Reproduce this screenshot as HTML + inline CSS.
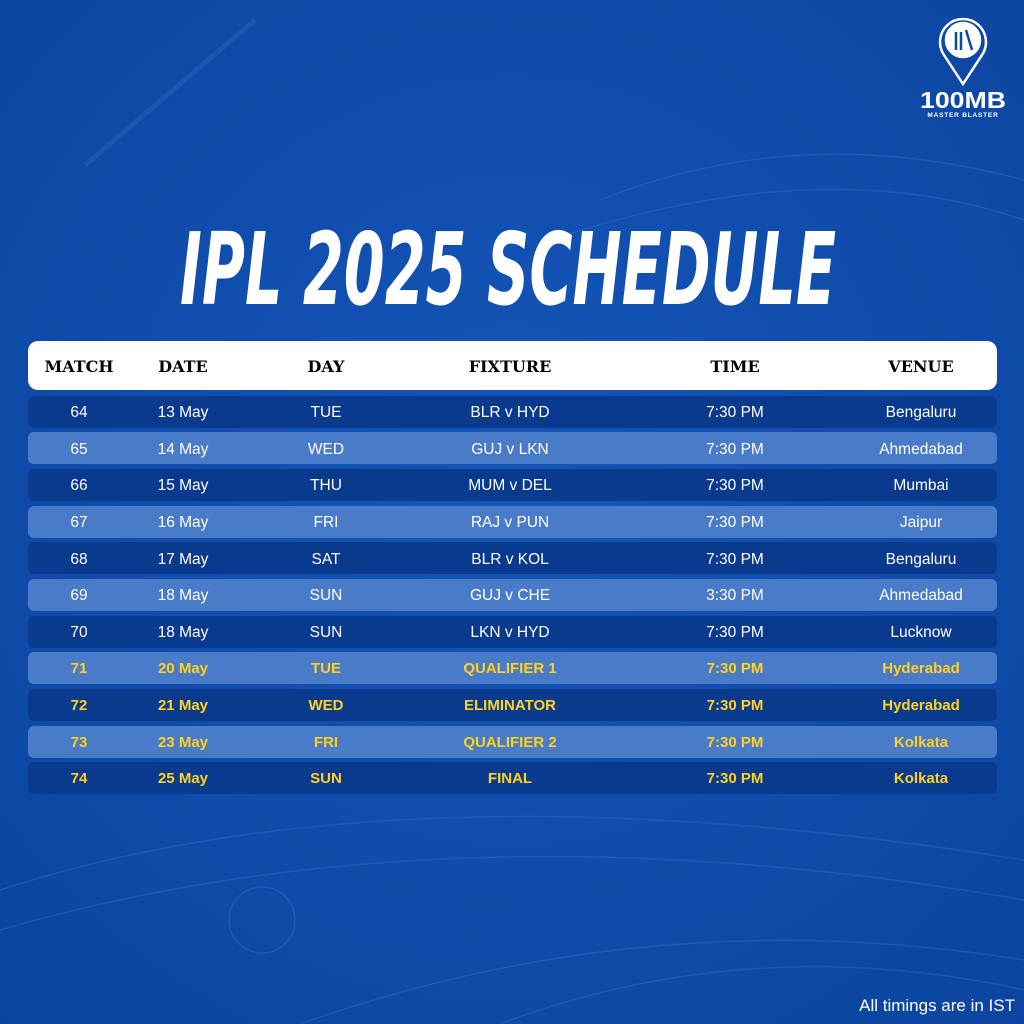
<!DOCTYPE html>
<html><head><meta charset="utf-8"><style>
html,body{margin:0;padding:0;width:1024px;height:1024px;overflow:hidden;background:#0c4aa6}
</style></head><body>
<svg width="1024" height="1024" viewBox="0 0 1024 1024" xmlns="http://www.w3.org/2000/svg" font-family="Liberation Sans, sans-serif">
<defs>
<radialGradient id="bg" cx="0.5" cy="0.45" r="0.75">
<stop offset="0" stop-color="#1456b8"/><stop offset="1" stop-color="#0b44a0"/>
</radialGradient>
</defs>
<rect width="1024" height="1024" fill="url(#bg)"/>
<g stroke="#3f78cc" stroke-opacity="0.35" fill="none" stroke-width="1.5">
<line x1="85" y1="165" x2="255" y2="20" stroke-width="5" stroke-opacity="0.3"/>
<path d="M0 890 Q400 760 1024 860"/>
<path d="M0 930 Q450 800 1024 900"/>
<path d="M300 1024 Q650 900 1024 960"/>
<path d="M500 1024 Q750 930 1024 990"/>
<path d="M600 200 Q800 120 1024 180"/>
<path d="M550 240 Q820 150 1024 220"/>
<circle cx="262" cy="920" r="33"/>
</g>
<!-- logo -->
<g fill="none" stroke="#fff" stroke-width="2.5">
<path d="M963 84 L944 55 A23 23 0 1 1 982 55 Z"/>
<circle cx="963" cy="40" r="17" fill="#fff"/>
</g>
<g stroke="#0c4aa6" stroke-width="2.5"><line x1="956" y1="32" x2="956" y2="50"/><line x1="961" y1="32" x2="961" y2="50"/><line x1="966" y1="30" x2="972" y2="50"/></g>
<text x="963" y="108" text-anchor="middle" font-weight="bold" font-size="23" fill="#fff" textLength="86" lengthAdjust="spacingAndGlyphs">100MB</text>
<text x="963" y="117" text-anchor="middle" font-weight="bold" font-size="6.5" fill="#fff" letter-spacing="0.8">MASTER BLASTER</text>
<!-- title -->
<text x="180" y="304" font-family="DejaVu Sans, sans-serif" font-weight="bold" font-style="italic" font-size="100" fill="#fff" textLength="656" lengthAdjust="spacingAndGlyphs">IPL 2025 SCHEDULE</text>
<!-- header -->
<rect x="28" y="341" width="969" height="49" rx="10" fill="#fff"/>
<g font-weight="bold" font-size="16" fill="#000" text-anchor="middle" font-family="DejaVu Serif, serif">
<text x="79" y="372">MATCH</text><text x="183" y="372">DATE</text><text x="326" y="372">DAY</text><text x="510" y="372">FIXTURE</text><text x="735" y="372">TIME</text><text x="921" y="372">VENUE</text>
</g>
<g font-size="15.5" text-anchor="middle">
<rect x="28" y="396" width="969" height="32" rx="6" fill="#0a3a8e"/>
<rect x="28" y="432" width="969" height="32" rx="6" fill="#4a7bc8"/>
<rect x="28" y="469" width="969" height="32" rx="6" fill="#0a3a8e"/>
<rect x="28" y="506" width="969" height="32" rx="6" fill="#4a7bc8"/>
<rect x="28" y="542" width="969" height="32" rx="6" fill="#0a3a8e"/>
<rect x="28" y="579" width="969" height="32" rx="6" fill="#4a7bc8"/>
<rect x="28" y="616" width="969" height="32" rx="6" fill="#0a3a8e"/>
<rect x="28" y="652" width="969" height="32" rx="6" fill="#4a7bc8"/>
<rect x="28" y="689" width="969" height="32" rx="6" fill="#0a3a8e"/>
<rect x="28" y="726" width="969" height="32" rx="6" fill="#4a7bc8"/>
<rect x="28" y="762" width="969" height="32" rx="6" fill="#0a3a8e"/>
<g fill="#fff">
<text y="417"><tspan x="79">64</tspan><tspan x="183">13 May</tspan><tspan x="326">TUE</tspan><tspan x="510">BLR v HYD</tspan><tspan x="735">7:30 PM</tspan><tspan x="921">Bengaluru</tspan></text>
<text y="454"><tspan x="79">65</tspan><tspan x="183">14 May</tspan><tspan x="326">WED</tspan><tspan x="510">GUJ v LKN</tspan><tspan x="735">7:30 PM</tspan><tspan x="921">Ahmedabad</tspan></text>
<text y="490"><tspan x="79">66</tspan><tspan x="183">15 May</tspan><tspan x="326">THU</tspan><tspan x="510">MUM v DEL</tspan><tspan x="735">7:30 PM</tspan><tspan x="921">Mumbai</tspan></text>
<text y="527"><tspan x="79">67</tspan><tspan x="183">16 May</tspan><tspan x="326">FRI</tspan><tspan x="510">RAJ v PUN</tspan><tspan x="735">7:30 PM</tspan><tspan x="921">Jaipur</tspan></text>
<text y="564"><tspan x="79">68</tspan><tspan x="183">17 May</tspan><tspan x="326">SAT</tspan><tspan x="510">BLR v KOL</tspan><tspan x="735">7:30 PM</tspan><tspan x="921">Bengaluru</tspan></text>
<text y="600"><tspan x="79">69</tspan><tspan x="183">18 May</tspan><tspan x="326">SUN</tspan><tspan x="510">GUJ v CHE</tspan><tspan x="735">3:30 PM</tspan><tspan x="921">Ahmedabad</tspan></text>
<text y="637"><tspan x="79">70</tspan><tspan x="183">18 May</tspan><tspan x="326">SUN</tspan><tspan x="510">LKN v HYD</tspan><tspan x="735">7:30 PM</tspan><tspan x="921">Lucknow</tspan></text>
</g>
<g fill="#ffd21f" font-weight="bold" font-size="15">
<text y="673"><tspan x="79">71</tspan><tspan x="183">20 May</tspan><tspan x="326">TUE</tspan><tspan x="510">QUALIFIER 1</tspan><tspan x="735">7:30 PM</tspan><tspan x="921">Hyderabad</tspan></text>
<text y="710"><tspan x="79">72</tspan><tspan x="183">21 May</tspan><tspan x="326">WED</tspan><tspan x="510">ELIMINATOR</tspan><tspan x="735">7:30 PM</tspan><tspan x="921">Hyderabad</tspan></text>
<text y="747"><tspan x="79">73</tspan><tspan x="183">23 May</tspan><tspan x="326">FRI</tspan><tspan x="510">QUALIFIER 2</tspan><tspan x="735">7:30 PM</tspan><tspan x="921">Kolkata</tspan></text>
<text y="783"><tspan x="79">74</tspan><tspan x="183">25 May</tspan><tspan x="326">SUN</tspan><tspan x="510">FINAL</tspan><tspan x="735">7:30 PM</tspan><tspan x="921">Kolkata</tspan></text>
</g>
</g>
<text x="1015" y="1011" text-anchor="end" font-size="17" fill="#fff">All timings are in IST</text>
</svg>
</body></html>
